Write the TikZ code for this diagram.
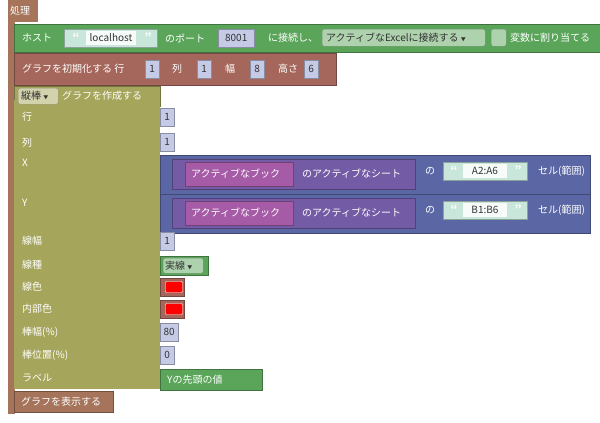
\documentclass[tikz,border=0pt]{standalone}
\usepackage{fontspec}
\setmainfont{Noto Sans CJK JP}
\usetikzlibrary{positioning}
\definecolor{procbr}{HTML}{A5745B}
\definecolor{okgreen}{HTML}{5BA55B}
\definecolor{initbr}{HTML}{A5675B}
\definecolor{olive}{HTML}{A5A55B}
\definecolor{rngblue}{HTML}{5B67A5}
\definecolor{sheetpur}{HTML}{745BA5}
\definecolor{bookmag}{HTML}{A55BA5}
\definecolor{strteal}{HTML}{C8E6DA}
\definecolor{numlav}{HTML}{C5CAE6}
\begin{document}
\begin{tikzpicture}[x=1pt,y=-1pt,
  every node/.style={font=\fontsize{10}{11}\selectfont, inner sep=0pt},
  blk/.style={draw=#1!70!black, fill=#1, line width=0.4pt, anchor=north west},
  lbl/.style={text=white, anchor=west},
  dlbl/.style={text=black!80, anchor=west},
  num/.style={blk=numlav, minimum height=18, text width=14, align=center, text=black!80},
  str/.style={blk=strteal, minimum height=18, text=black!80},
  tick/.style={text=white, font=\bfseries\fontsize{11}{11}\selectfont}]
\useasboundingbox (0,0) rectangle (600,423);

% procedure frame
\fill[procbr] (8,0) rectangle (38,22);
\fill[procbr] (8,22) rectangle (15,414);
\node (proc) [lbl] at (10,11) {処理};

% connect block
\node (conn) [blk=okgreen, minimum width=586, minimum height=28] at (14,24) {};
\node (host) [lbl] at (22,38) {ホスト};
\node (hostv) [str, minimum width=93] at (64,29) {};
\node (hostt) [fill=white!85!strteal, minimum width=50, minimum height=14, text=black!80] at (111,38) {localhost};
\node [tick] at (76,37) {“};
\node [tick] at (148,37) {”};
\node (port) [lbl] at (165,38) {のポート};
\node (portv) [num, text width=36] at (218,29) {8001};
\node (cnct) [lbl] at (268,38) {に接続し、};
\node (mode) [blk=okgreen!50!white, minimum width=163, minimum height=17, rounded corners=2] at (322,29) {};
\node [anchor=west, text=black!80] at (326,38) {アクティブなExcelに接続する\ \tiny▼};
\node (chk) [blk=okgreen!50!white, minimum width=15, minimum height=17, rounded corners=2] at (491,29) {};
\node (asgn) [lbl] at (510,38) {変数に割り当てる};

% init block
\node (init) [blk=initbr, minimum width=322, minimum height=32] at (14,53) {};
\node (initt) [lbl] at (22,69) {グラフを初期化する 行};
\node (rowv) [num] at (145,60) {1};
\node (colt) [lbl] at (172,69) {列};
\node (colv) [num] at (197,60) {1};
\node (wdt) [lbl] at (225,69) {幅};
\node (wdv) [num] at (250,60) {8};
\node (ht) [lbl] at (278,69) {高さ};
\node (htv) [num] at (304,60) {6};

% create chart block
\node (crt) [blk=olive, minimum width=146, minimum height=20] at (14,86) {};
\fill[olive] (14,100) rectangle (160,389);
\node (kind) [blk=olive!50!white, minimum width=40, minimum height=16, rounded corners=2] at (18,88) {};
\node [dlbl] at (21,96) {縦棒\ \tiny▼};
\node (crtt) [lbl] at (62,96) {グラフを作成する};
\foreach \t/\y in {行/117,列/143,X/163,Y/203,線幅/241,線種/265,線色/287,内部色/309,棒幅(\%)/332,棒位置(\%)/355,ラベル/378}
  \node [lbl] at (22,\y) {\t};

\node (rowin) [num] at (160,108) {1};
\node (colin) [num] at (160,133) {1};
% X and Y ranges
\foreach \n/\y/\r in {x/155/A2:A6,y/194/B1:B6} {
  \node (rng\n) [blk=rngblue, minimum width=430, minimum height=39] at (160,\y) {};
  \node (sht\n) [blk=sheetpur, minimum width=243, minimum height=30] at (172,\y+4) {};
  \node (bk\n) [blk=bookmag, minimum width=108, minimum height=24] at (185,\y+7) {};
  \node [lbl] at (191,\y+19) {アクティブなブック};
  \node [lbl] at (302,\y+19) {のアクティブなシート};
  \node [lbl] at (425,\y+16) {の};
  \node (cell\n) [str, minimum width=84] at (443,\y+7) {};
  \node [fill=white!85!strteal, minimum width=44, minimum height=14, text=black!80] at (485,\y+16) {\r};
  \node [tick] at (454,\y+15) {“};
  \node [tick] at (518,\y+15) {”};
  \node [lbl] at (538,\y+16) {セル(範囲)};
}
\node (lwv) [num] at (160,232) {1};
\node (ls) [blk=okgreen, minimum width=48, minimum height=19] at (160,256) {};
\node (lsv) [blk=okgreen!50!white, minimum width=40, minimum height=15, rounded corners=2] at (163,258) {};
\node [dlbl] at (165,265.5) {実線\ \tiny▼};
\foreach \n/\y in {lc/278,fc/300} {
  \node (\n) [blk=initbr, minimum width=24, minimum height=18] at (160,\y) {};
  \node [fill=red, draw=white, minimum width=17, minimum height=11, rounded corners=1] at (174,\y+9) {};
}
\node (bwv) [num, text width=18] at (160,323) {80};
\node (bpv) [num] at (160,346) {0};
\node (lab) [blk=okgreen, minimum width=102, minimum height=21] at (160,369) {};
\node [lbl] at (167,379.5) {Yの先頭の値};

% show chart
\node (show) [blk=procbr, minimum width=99, minimum height=21] at (14,391) {};
\node (showt) [lbl] at (21,401.5) {グラフを表示する};
\end{tikzpicture}
\end{document}
